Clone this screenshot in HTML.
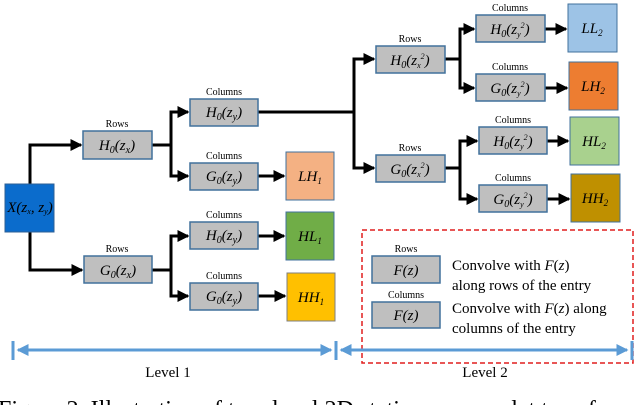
<!DOCTYPE html>
<html><head><meta charset="utf-8"><style>
html,body{margin:0;padding:0;background:#fff;width:640px;height:405px;overflow:hidden}
svg{display:block}
.b{fill:#bfbfbf;stroke:#41719c;stroke-width:1.5}
.m{font-family:"Liberation Serif",serif;font-style:italic;font-size:15px;text-anchor:middle}
.l{font-family:"Liberation Serif",serif;font-size:10px;text-anchor:middle}
.w{stroke:#000;stroke-width:3;fill:none}
.t{font-family:"Liberation Serif",serif;font-size:15px}
</style></head><body>
<svg width="640" height="405" viewBox="0 0 640 405">
<defs><marker id="a" markerWidth="4" markerHeight="4" refX="3.5" refY="2" orient="auto" markerUnits="strokeWidth"><path d="M0,0 L4,2 L0,4z" fill="#000"/></marker>
<marker id="c" markerWidth="4" markerHeight="4" refX="3.5" refY="2" orient="auto" markerUnits="strokeWidth"><path d="M0,0 L4,2 L0,4z" fill="#5b9bd5"/></marker></defs>
<path class="w" d="M30,184 V145 H81" marker-end="url(#a)"/>
<path class="w" d="M30,232 V270 H82" marker-end="url(#a)"/>
<path class="w" d="M152,145 H171"/><path class="w" d="M171,176 V112 H188" marker-end="url(#a)"/><path class="w" d="M171,145 V176 H188" marker-end="url(#a)"/>
<path class="w" d="M152,270 H171"/><path class="w" d="M171,296 V236 H188" marker-end="url(#a)"/><path class="w" d="M171,270 V296 H188" marker-end="url(#a)"/>
<path class="w" d="M258,176 H284" marker-end="url(#a)"/>
<path class="w" d="M258,236 H284" marker-end="url(#a)"/>
<path class="w" d="M258,296 H285" marker-end="url(#a)"/>
<path class="w" d="M258,112 H354"/>
<path class="w" d="M354,168 V59 H374" marker-end="url(#a)"/><path class="w" d="M354,112 V168 H374" marker-end="url(#a)"/>
<path class="w" d="M445,59 H460"/><path class="w" d="M460,88 V29 H474" marker-end="url(#a)"/><path class="w" d="M460,59 V88 H474" marker-end="url(#a)"/>
<path class="w" d="M445,168 H460"/><path class="w" d="M460,199 V141 H477" marker-end="url(#a)"/><path class="w" d="M460,168 V199 H477" marker-end="url(#a)"/>
<path class="w" d="M545,29 H566" marker-end="url(#a)"/>
<path class="w" d="M545,88 H567" marker-end="url(#a)"/>
<path class="w" d="M547,141 H568" marker-end="url(#a)"/>
<path class="w" d="M547,199 H569" marker-end="url(#a)"/>
<rect x="5" y="184" width="49" height="48" fill="#0b6ccc" stroke="#2e5f95"/>
<text class="m" x="30" y="212" font-size="12">X(z<tspan font-size="8" dy="2">x</tspan><tspan dy="-2">, z</tspan><tspan font-size="8" dy="2">y</tspan><tspan dy="-2">)</tspan></text>
<text class="l" x="117" y="127">Rows</text><rect class="b" x="83" y="131" width="69" height="28"/><text class="m" x="117" y="150">H<tspan font-size="10" dy="3">0</tspan><tspan dy="-3">(z</tspan><tspan font-size="10" dy="3">x</tspan><tspan dy="-3">)</tspan></text>
<text class="l" x="117" y="252">Rows</text><rect class="b" x="84" y="256" width="68" height="27"/><text class="m" x="118" y="275">G<tspan font-size="10" dy="3">0</tspan><tspan dy="-3">(z</tspan><tspan font-size="10" dy="3">x</tspan><tspan dy="-3">)</tspan></text>
<text class="l" x="224" y="95">Columns</text><rect class="b" x="190" y="99" width="68" height="27"/><text class="m" x="224" y="117">H<tspan font-size="10" dy="3">0</tspan><tspan dy="-3">(z</tspan><tspan font-size="10" dy="3">y</tspan><tspan dy="-3">)</tspan></text>
<text class="l" x="224" y="159">Columns</text><rect class="b" x="190" y="163" width="68" height="27"/><text class="m" x="224" y="181">G<tspan font-size="10" dy="3">0</tspan><tspan dy="-3">(z</tspan><tspan font-size="10" dy="3">y</tspan><tspan dy="-3">)</tspan></text>
<text class="l" x="224" y="218">Columns</text><rect class="b" x="190" y="222" width="68" height="27"/><text class="m" x="224" y="240">H<tspan font-size="10" dy="3">0</tspan><tspan dy="-3">(z</tspan><tspan font-size="10" dy="3">y</tspan><tspan dy="-3">)</tspan></text>
<text class="l" x="224" y="279">Columns</text><rect class="b" x="190" y="283" width="68" height="27"/><text class="m" x="224" y="301">G<tspan font-size="10" dy="3">0</tspan><tspan dy="-3">(z</tspan><tspan font-size="10" dy="3">y</tspan><tspan dy="-3">)</tspan></text>
<rect x="286" y="152" width="48" height="48" fill="#f4b183" stroke="#41719c"/><text class="m" x="310" y="181" font-size="13">LH<tspan font-size="9" dy="3">1</tspan></text>
<rect x="286" y="212" width="48" height="48" fill="#70ad47" stroke="#41719c"/><text class="m" x="310" y="241" font-size="13">HL<tspan font-size="9" dy="3">1</tspan></text>
<rect x="287" y="273" width="48" height="48" fill="#ffc000" stroke="#7f7f7f"/><text class="m" x="311" y="302" font-size="13">HH<tspan font-size="9" dy="3">1</tspan></text>
<text class="l" x="410" y="42">Rows</text><rect class="b" x="376" y="46" width="69" height="27"/><text class="m" x="410" y="65">H<tspan font-size="10" dy="3">0</tspan><tspan dy="-3">(z</tspan><tspan font-size="8" dy="3">x</tspan><tspan font-size="8" dy="-9">2</tspan><tspan dy="6">)</tspan></text>
<text class="l" x="410" y="151">Rows</text><rect class="b" x="376" y="155" width="69" height="27"/><text class="m" x="410" y="174">G<tspan font-size="10" dy="3">0</tspan><tspan dy="-3">(z</tspan><tspan font-size="8" dy="3">x</tspan><tspan font-size="8" dy="-9">2</tspan><tspan dy="6">)</tspan></text>
<text class="l" x="510" y="11">Columns</text><rect class="b" x="476" y="15" width="69" height="27"/><text class="m" x="510" y="34">H<tspan font-size="10" dy="3">0</tspan><tspan dy="-3">(z</tspan><tspan font-size="8" dy="3">y</tspan><tspan font-size="8" dy="-9">2</tspan><tspan dy="6">)</tspan></text>
<text class="l" x="510" y="70">Columns</text><rect class="b" x="476" y="74" width="69" height="27"/><text class="m" x="510" y="93">G<tspan font-size="10" dy="3">0</tspan><tspan dy="-3">(z</tspan><tspan font-size="8" dy="3">y</tspan><tspan font-size="8" dy="-9">2</tspan><tspan dy="6">)</tspan></text>
<text class="l" x="513" y="123">Columns</text><rect class="b" x="479" y="127" width="68" height="27"/><text class="m" x="513" y="146">H<tspan font-size="10" dy="3">0</tspan><tspan dy="-3">(z</tspan><tspan font-size="8" dy="3">y</tspan><tspan font-size="8" dy="-9">2</tspan><tspan dy="6">)</tspan></text>
<text class="l" x="513" y="181">Columns</text><rect class="b" x="479" y="185" width="68" height="27"/><text class="m" x="513" y="204">G<tspan font-size="10" dy="3">0</tspan><tspan dy="-3">(z</tspan><tspan font-size="8" dy="3">y</tspan><tspan font-size="8" dy="-9">2</tspan><tspan dy="6">)</tspan></text>
<rect x="568" y="4" width="49" height="48" fill="#9dc3e6" stroke="#41719c"/><text class="m" x="592" y="33" font-size="13">LL<tspan font-size="9" dy="3">2</tspan></text>
<rect x="569" y="62" width="49" height="48" fill="#ed7d31" stroke="#41719c"/><text class="m" x="593" y="91" font-size="13">LH<tspan font-size="9" dy="3">2</tspan></text>
<rect x="570" y="117" width="49" height="48" fill="#a9d18e" stroke="#41719c"/><text class="m" x="594" y="146" font-size="13">HL<tspan font-size="9" dy="3">2</tspan></text>
<rect x="571" y="174" width="49" height="48" fill="#bf9000" stroke="#41719c"/><text class="m" x="595" y="203" font-size="13">HH<tspan font-size="9" dy="3">2</tspan></text>
<rect x="362" y="230" width="271" height="133" fill="none" stroke="#e01e1e" stroke-width="1.5" stroke-dasharray="5,3"/>
<text class="l" x="406" y="252" font-size="9">Rows</text><rect class="b" x="372" y="256" width="68" height="27"/><text class="m" x="406" y="275">F(z)</text>
<text class="l" x="406" y="298" font-size="9">Columns</text><rect class="b" x="372" y="302" width="68" height="26"/><text class="m" x="406" y="320">F(z)</text>
<text class="t" x="452" y="270">Convolve with <tspan font-style="italic">F</tspan>(<tspan font-style="italic">z</tspan>)</text>
<text class="t" x="452" y="290">along rows of the entry</text>
<text class="t" x="452" y="313">Convolve with <tspan font-style="italic">F</tspan>(<tspan font-style="italic">z</tspan>) along</text>
<text class="t" x="452" y="333">columns of the entry</text>
<g stroke="#5b9bd5" stroke-width="3" fill="none">
<path d="M13,341 V360 M336,341 V360 M632,341 V360"/>
<path d="M22,350 H331" marker-end="url(#c)"/><path d="M327,350 H18" marker-end="url(#c)"/>
<path d="M345,350 H627" marker-end="url(#c)"/><path d="M623,350 H341" marker-end="url(#c)"/>
</g>
<text class="t" x="168" y="377" text-anchor="middle">Level 1</text>
<text class="t" x="485" y="377" text-anchor="middle">Level 2</text>
<text x="-2" y="417" font-family="Liberation Serif,serif" font-size="24" fill="#000">Figure 2. Illustration of two-level 2D stationary wavelet transform</text>
</svg>
</body></html>
